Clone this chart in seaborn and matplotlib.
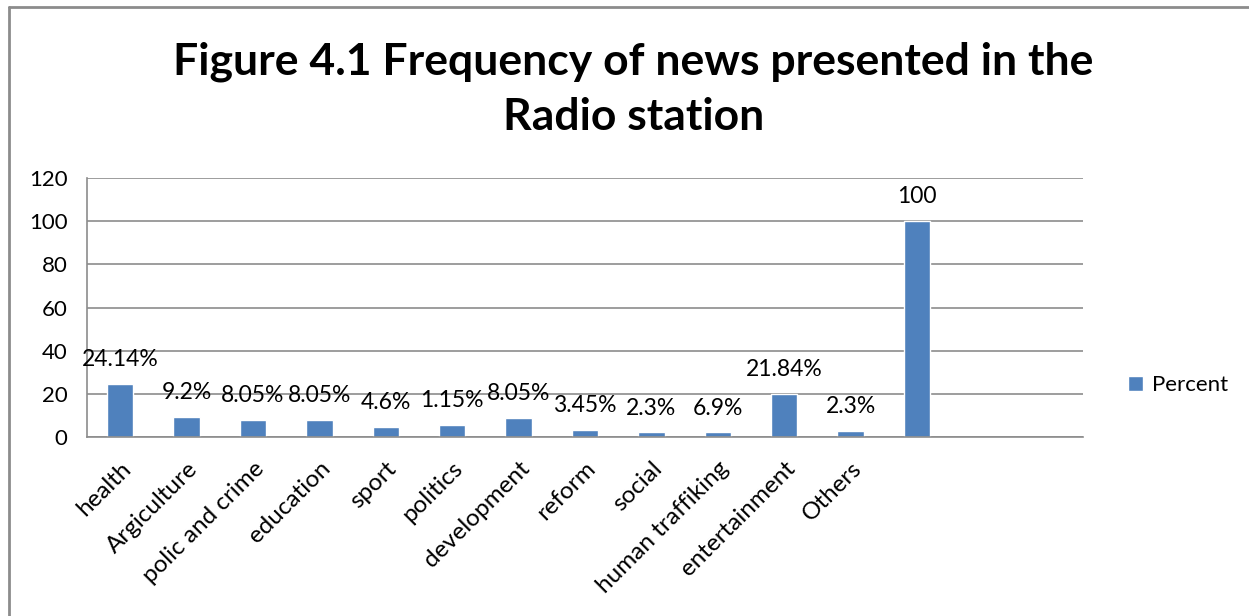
import seaborn as sns
import matplotlib.pyplot as plt
import matplotlib.transforms as mtransforms
import pandas as pd
from matplotlib.lines import Line2D

# values
categories = ['health', 'Argiculture', 'polic and crime', 'education', 'sport',
              'politics', 'development', 'reform', 'social', 'human traffiking',
              'entertainment', 'Others', 'total']
tick_labels = ['health', 'Argiculture', 'polic and crime', 'education', 'sport',
               'politics', 'development', 'reform', 'social', 'human traffiking',
               'entertainment', 'Others', '', '', '']
percent = [24.5, 9.1, 8, 8, 4.6, 5.7, 8.8, 3.2, 2.1, 2.1, 20, 2.8, 100]
bar_text = ['24.14%', '9.2%', '8.05%', '8.05%', '4.6%', '1.15%', '8.05%',
            '3.45%', '2.3%', '6.9%', '21.84%', '2.3%', '100']

df = pd.DataFrame({'category': categories, 'Percent': percent})

sns.set_style('white')
plt.rcParams['font.family'] = ['Lato', 'DejaVu Sans']
plt.rcParams['text.color'] = 'black'
plt.rcParams['xtick.labelcolor'] = 'black'
plt.rcParams['ytick.labelcolor'] = 'black'

fig = plt.figure(figsize=(12.49, 6.16), dpi=100)
ax = fig.add_axes([87 / 1249, 1 - 437 / 616, 996 / 1249, 259 / 616])

sns.barplot(data=df, x='category', y='Percent', color='#4F81BD', width=0.4,
            saturation=1, label='Percent', ax=ax)

ax.bar_label(ax.containers[0], labels=bar_text, padding=10, fontsize=16.5)

ax.set_xlim(-0.5, len(tick_labels) - 0.5)
ax.set_ylim(0, 120)
ax.set_yticks(range(0, 121, 20))
ax.set_xticks(range(len(tick_labels)))
ax.set_xticklabels(tick_labels, rotation=45, ha='right', rotation_mode='anchor',
                   fontsize=17.5)
shift = mtransforms.ScaledTranslation(-6 / 100, 0, fig.dpi_scale_trans)
for lbl in ax.get_xticklabels():
    lbl.set_transform(lbl.get_transform() + shift)
ax.set_xticks([i + 0.5 for i in range(-1, len(tick_labels))], minor=True)
ax.tick_params(axis='x', which='major', length=0, pad=15)
ax.tick_params(axis='x', which='minor', length=7, color='#8c8c8c', width=1.2)
ax.tick_params(axis='y', length=6, color='#8c8c8c', width=1.2, labelsize=16, pad=8)
ax.set_xlabel('')
ax.set_ylabel('')
ax.grid(axis='y', color='#8c8c8c', linewidth=1.2)
ax.set_axisbelow(True)
for side in ['top', 'right']:
    ax.spines[side].set_visible(False)
for side in ['left', 'bottom']:
    ax.spines[side].set_color('#8c8c8c')
    ax.spines[side].set_linewidth(1.2)

ax.legend(loc='center left', bbox_to_anchor=(1.025, 0.2), frameon=False,
          fontsize=16, handlelength=0.7, handleheight=0.7, handletextpad=0.4)

fig.text(0.507, 1 - 89 / 616, 'Figure 4.1 Frequency of news presented in the\nRadio station',
         ha='center', va='center', fontsize=32, fontweight='bold', linespacing=1.45)

# chart border
fig.add_artist(Line2D([9 / 1249, 9 / 1249], [0, 1 - 7 / 616], color='#8c8c8c', linewidth=2,
                      transform=fig.transFigure))
fig.add_artist(Line2D([9 / 1249, 1], [1 - 7 / 616, 1 - 7 / 616], color='#8c8c8c', linewidth=2,
                      transform=fig.transFigure))

fig.savefig('out.png', dpi=100)
